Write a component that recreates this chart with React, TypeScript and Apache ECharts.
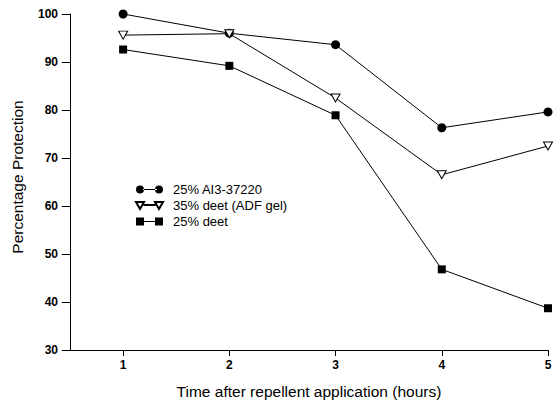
import React, { useEffect, useRef } from "react";
import * as echarts from "echarts";

const hours = [1, 2, 3, 4, 5];
const ai3Values = [100, 96, 93.6, 76.3, 79.6];
const adfGelValues = [95.6, 95.9, 82.5, 66.5, 72.5];
const deetValues = [92.6, 89.2, 78.9, 46.8, 38.7];
const seriesNames = ["25% AI3-37220", "35% deet (ADF gel)", "25% deet"];
const yTicks = [30, 40, 50, 60, 70, 80, 90, 100];

const FONT = "'Liberation Sans', Arial, sans-serif";

const circleIcon =
  "path://M0,4 a4,4 0 1,0 8,0 a4,4 0 1,0 -8,0 Z M7,3.5 L21,3.5 L21,4.5 L7,4.5 Z M19,4 a4,4 0 1,0 8,0 a4,4 0 1,0 -8,0 Z";
const triIcon =
  "path://M0,0 L8,0 L4,7 Z M7.5,3 L19.5,3 Z M19,0 L27,0 L23,7 Z";
const squareIcon =
  "path://M0,0 L8,0 L8,8 L0,8 Z M8,3.5 L19,3.5 L19,4.5 L8,4.5 Z M19,0 L27,0 L27,8 L19,8 Z";

export default function App() {
  const ref = useRef<HTMLDivElement>(null);
  useEffect(() => {
    if (!ref.current) return;
    const chart = echarts.init(ref.current, null, { renderer: "svg" });
    const pair = (vals: number[]) => hours.map((h, i) => [h, vals[i]]);
    chart.setOption({
      animation: false,
      backgroundColor: "#fff",
      grid: { left: 70, right: 12, top: 14, bottom: 52, containLabel: false },
      legend: {
        left: 130,
        top: 178,
        orient: "vertical",
        itemWidth: 27,
        itemHeight: 8,
        itemGap: 3,
        textStyle: { fontFamily: FONT, fontSize: 13, color: "#000", padding: [0, 0, 0, 5] },
        data: [
          { name: seriesNames[0], icon: circleIcon },
          { name: seriesNames[1], icon: triIcon },
          { name: seriesNames[2], icon: squareIcon },
        ],
      },
      xAxis: {
        type: "value",
        min: 0.5,
        max: 5,
        name: "Time after repellent application (hours)",
        nameLocation: "middle",
        nameGap: 33,
        nameTextStyle: { fontFamily: FONT, fontSize: 15.5, color: "#000" },
        axisLine: { show: true, lineStyle: { color: "#000", width: 1 } },
        axisTick: { show: true, length: 6, lineStyle: { color: "#000" }, customValues: hours },
        axisLabel: {
          fontFamily: FONT,
          fontSize: 12,
          fontWeight: "bold",
          color: "#000",
          margin: 9,
          customValues: hours,
        },
        splitLine: { show: false },
      },
      yAxis: {
        type: "value",
        min: 30,
        max: 100,
        interval: 10,
        name: "Percentage Protection",
        nameLocation: "middle",
        nameGap: 45,
        nameTextStyle: { fontFamily: FONT, fontSize: 15.5, color: "#000", padding: [0, 0, 0, 10] },
        axisLine: { show: true, lineStyle: { color: "#000", width: 1 } },
        axisTick: { show: true, length: 8, lineStyle: { color: "#000" }, customValues: yTicks },
        axisLabel: {
          fontFamily: FONT,
          fontSize: 12,
          fontWeight: "bold",
          color: "#000",
          margin: 12,
          customValues: yTicks,
        },
        splitLine: { show: false },
      },
      series: [
        {
          name: seriesNames[0],
          type: "line",
          data: pair(ai3Values),
          symbol: "circle",
          symbolSize: 9,
          lineStyle: { color: "#000", width: 1 },
          itemStyle: { color: "#000", borderColor: "#000", borderWidth: 0 },
        },
        {
          name: seriesNames[1],
          type: "line",
          data: pair(adfGelValues),
          symbol: "triangle",
          symbolRotate: 180,
          symbolSize: [9, 8],
          lineStyle: { color: "#000", width: 1 },
          itemStyle: { color: "#fff", borderColor: "#000", borderWidth: 1 },
          z: 3,
        },
        {
          name: seriesNames[2],
          type: "line",
          data: pair(deetValues),
          symbol: "rect",
          symbolSize: 8,
          lineStyle: { color: "#000", width: 1 },
          itemStyle: { color: "#000", borderColor: "#000", borderWidth: 0 },
        },
      ],
    });
    return () => chart.dispose();
  }, []);
  return (
    <div
      ref={ref}
      style={{ position: "fixed", left: 0, top: 0, width: 560, height: 404 }}
    />
  );
}
